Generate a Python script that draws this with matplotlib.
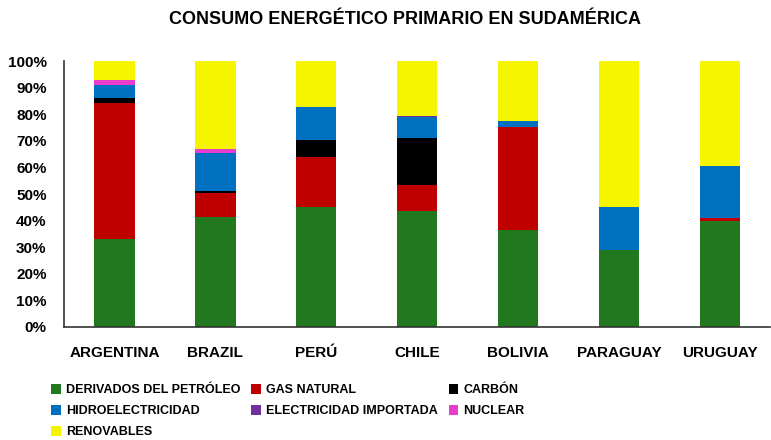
import numpy as np
import matplotlib.pyplot as plt
from matplotlib.patches import Patch

plt.rcParams['font.family'] = ['Liberation Sans', 'DejaVu Sans']

paises = ['ARGENTINA', 'BRAZIL', 'PERÚ', 'CHILE', 'BOLIVIA', 'PARAGUAY', 'URUGUAY']
fuentes = ['DERIVADOS DEL PETRÓLEO', 'GAS NATURAL', 'CARBÓN', 'HIDROELECTRICIDAD',
           'ELECTRICIDAD IMPORTADA', 'NUCLEAR', 'RENOVABLES']

# porcentajes por fuente (mismo orden que paises)
petroleo = [33.0, 41.5, 45.2, 43.5, 36.5, 29.0, 40.0]
gas = [51.2, 9.0, 18.6, 9.9, 38.6, 0.0, 1.0]
carbon = [1.8, 0.8, 6.5, 17.8, 0.0, 0.0, 0.0]
hidro = [5.0, 14.0, 12.3, 7.9, 2.5, 16.0, 19.6]
importada = [0.0, 0.0, 0.0, 0.3, 0.0, 0.0, 0.0]
nuclear = [2.0, 1.5, 0.0, 0.0, 0.0, 0.0, 0.0]
renovables = [7.0, 33.2, 17.4, 20.6, 22.4, 55.0, 39.4]

colores = ['#22781E', '#C00000', '#000000', '#0070C0', '#7030A0', '#E83ECB', '#F5F500']

series = [petroleo, gas, carbon, hidro, importada, nuclear, renovables]

fig = plt.figure(figsize=(7.71, 4.40), dpi=100)
ax = fig.add_axes([0.083, 0.257, 0.916, 0.604])

x = np.arange(len(paises))
base = np.zeros(len(paises))
for vals, col in zip(series, colores):
    v = np.array(vals) / 100.0
    ax.bar(x, v, width=0.4, bottom=base, color=col, edgecolor='none')
    base += v

ax.set_ylim(0, 1)
ax.set_xlim(-0.5, len(paises) - 0.5)
ticks = np.arange(0, 1.01, 0.1)
ax.set_yticks(ticks)
ax.set_yticklabels(['{}%'.format(int(round(t * 100))) for t in ticks],
                   fontsize=11, fontweight='bold')
ax.set_xticks(x)
ax.set_xticklabels(paises, fontsize=11, fontweight='bold')
ax.tick_params(axis='y', length=0, pad=12.5)
ax.tick_params(axis='x', length=0, pad=14)
for s in ['top', 'right']:
    ax.spines[s].set_visible(False)
for s in ['left', 'bottom']:
    ax.spines[s].set_color('#333333')
    ax.spines[s].set_linewidth(1.2)

fig.text(0.525, 0.955, 'CONSUMO ENERGÉTICO PRIMARIO EN SUDAMÉRICA', ha='center', va='center',
         fontsize=13, fontweight='bold')

handles = [Patch(facecolor=c, label=f) for f, c in zip(fuentes, colores)]
orden = [0, 3, 6, 1, 4, 2, 5]
leg = fig.legend([handles[i] for i in orden], [fuentes[i] for i in orden],
                 ncol=3, loc='upper left', bbox_to_anchor=(0.052, 0.152), frameon=False,
                 prop={'size': 9, 'weight': 'bold'}, handlelength=0.75, handleheight=0.75,
                 handletextpad=0.4, columnspacing=0.9, labelspacing=0.72)

fig.savefig('out.png', dpi=100)
